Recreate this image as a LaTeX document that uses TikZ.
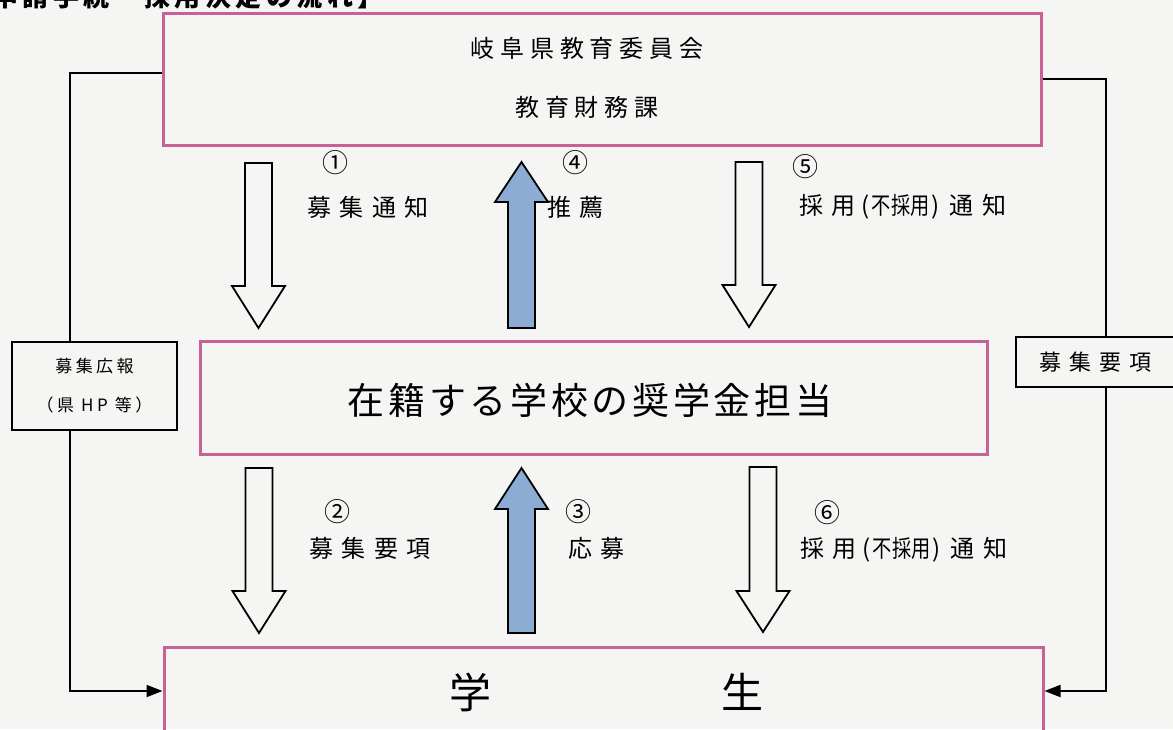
\documentclass[tikz,border=0pt]{standalone}
\usepackage{fontspec}
\usepackage{graphicx}
\usetikzlibrary{arrows.meta}
\setmainfont{Noto Sans CJK JP}
\definecolor{paper}{RGB}{245,245,243}
\definecolor{boxpink}{RGB}{200,98,150}
\definecolor{arrowblue}{RGB}{140,172,212}
\newcommand{\lspaced}[2]{{\addfontfeature{LetterSpace=#1}#2}}
\newcommand{\saiyo}{\lspaced{35}{採用}\hspace{3pt}(\hspace{1pt}\scalebox{0.8}[1]{不採用}\hspace{1pt})\hspace{5pt}\lspaced{35}{通知}}
\newcommand{\blockarrow}[5]{%
  \filldraw[blockline, fill=#5] ({#1-13.5},#2) -- ({#1+13.5},#2) -- ({#1+13.5},#3)
    -- ({#1+26.5},#3) -- (#1,#4) -- ({#1-26.5},#3) -- ({#1-13.5},#3) -- cycle;}

\begin{document}
\begin{tikzpicture}[x=0.5pt, y=-0.5pt,
    pinkbox/.style={draw=boxpink, line width=1.5pt, inner sep=0pt},
    blackbox/.style={draw, line width=0.9pt, inner sep=0pt, fill=paper},
    link/.style={line width=0.9pt},
    blockline/.style={line width=0.9pt, line join=miter},
    num/.style={font=\fontsize{13}{13}\selectfont},
    lbl/.style={font=\fontsize{12}{12}\selectfont}]
  \useasboundingbox (0,0) rectangle (1173,729);
  \fill[paper] (0,0) rectangle (1173,729);

  \node[anchor=west, font=\fontsize{13}{13}\selectfont\bfseries] (title) at (-45,-3)
    {\lspaced{17}{【申請手続・採用決定の流れ】}};

  \node[pinkbox, minimum width=439pt, minimum height=66pt] (iinkai) at (602,79) {};
  \node[pinkbox, minimum width=393.5pt, minimum height=56.5pt] (gakko) at (593.5,397.5) {};
  \node[pinkbox, minimum width=439.5pt, minimum height=50pt] (gakusei) at (603.5,697) {};
  \node[blackbox, minimum width=82.5pt, minimum height=44pt, align=center,
    font=\fontsize{8.5}{19.5}\selectfont] (koho) at (94.5,386)
    {\lspaced{20}{募集広報}\\\lspaced{20}{（県 HP 等）}};
  \node[blackbox, minimum width=79.5pt, minimum height=25pt,
    font=\fontsize{11}{11}\selectfont] (yoko) at (1095.5,362) {\lspaced{36}{募集要項}};

  \node[font=\fontsize{12}{12}\selectfont] (iinkai1) at (587,48) {\lspaced{24}{岐阜県教育委員会}};
  \node[font=\fontsize{12}{12}\selectfont] (iinkai2) at (587,107) {\lspaced{24}{教育財務課}};
  \node[font=\fontsize{18.5}{18.5}\selectfont] (tanto) at (590,400) {\lspaced{10}{在籍する学校の奨学金担当}};
  \node[font=\fontsize{21}{21}\selectfont] (gakuseitxt) at (606,692) {学\hspace{115pt}生};

  \coordinate (lt) at (70,73);
  \coordinate (lb) at (70,691);
  \coordinate (rt) at (1106,79);
  \coordinate (rb) at (1106,691);
  \draw[link] (iinkai.west |- lt) -- (lt) -- (lt |- koho.north);
  \draw[link, -{Triangle[length=8pt,width=6pt]}] (lt |- koho.south) -- (lb) -- (gakusei.west |- lb);
  \draw[link] (iinkai.east |- rt) -- (rt) -- (rt |- yoko.north);
  \draw[link, -{Triangle[length=8pt,width=6pt]}] (rt |- yoko.south) -- (rb) -- (gakusei.east |- rb);

  \blockarrow{258.5}{163}{286}{328}{paper}
  \blockarrow{521.5}{328}{202}{162}{arrowblue}
  \blockarrow{749}{162}{285}{327}{paper}
  \blockarrow{259}{468}{591}{633}{paper}
  \blockarrow{521.5}{633}{509}{468}{arrowblue}
  \blockarrow{763}{467}{591}{632}{paper}

  \node[num] (n1) at (335,163) {①};
  \node[lbl] (l1) at (368,207) {\lspaced{35}{募集通知}};
  \node[num] (n4) at (575,163) {④};
  \node[lbl, anchor=west, inner sep=0pt] (l4) at (547,207) {\lspaced{35}{推薦}};
  \node[num] (n5) at (805,167) {⑤};
  \node[lbl, anchor=west, inner sep=0pt] (l5) at (799,207) {\saiyo};
  \node[num] (n2) at (337,512) {②};
  \node[lbl] (l2) at (370,548) {\lspaced{35}{募集要項}};
  \node[num] (n3) at (578,512) {③};
  \node[lbl, anchor=west, inner sep=0pt] (l3) at (568,548) {\lspaced{35}{応募}};
  \node[num] (n6) at (827,513) {⑥};
  \node[lbl, anchor=west, inner sep=0pt] (l6) at (800,550) {\saiyo};
\end{tikzpicture}
\end{document}
